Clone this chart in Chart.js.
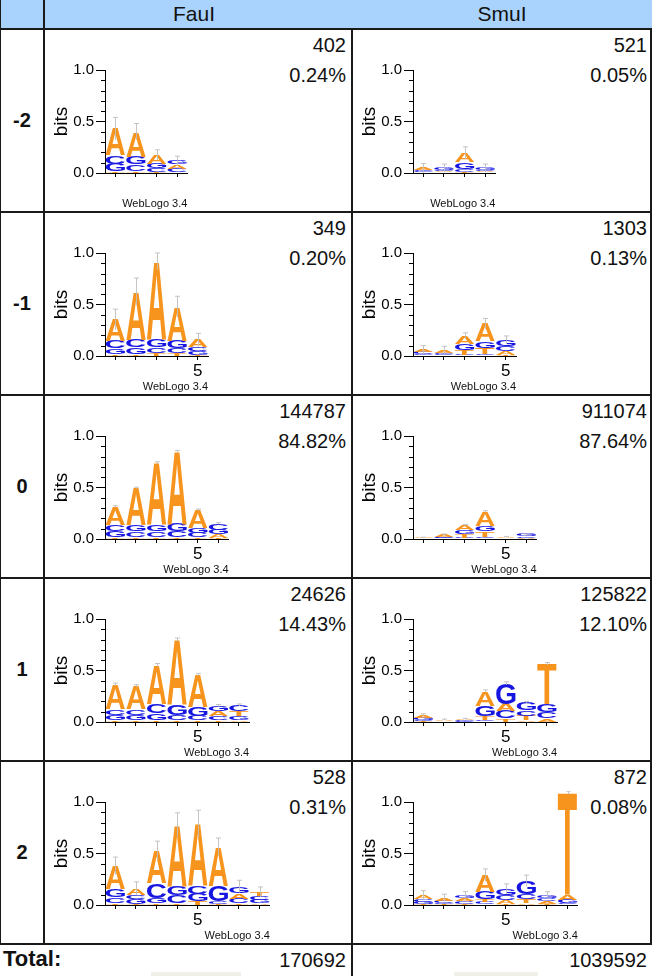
<!DOCTYPE html>
<html>
<head>
<meta charset="utf-8">
<script src="https://cdn.jsdelivr.net/npm/chart.js@4.4.1/dist/chart.umd.min.js"></script>
<style>
  html, body { margin: 0; padding: 0; background: #fff; }
  #hoja { position: relative; width: 652px; height: 976px; overflow: hidden; font-family: "Liberation Sans", Arial, sans-serif; color: #111; }
  .linea { position: absolute; background: #1a1a1a; }
  .texto { position: absolute; white-space: nowrap; }
  canvas { position: absolute; }
</style>
</head>
<body>
<div id="hoja"></div>
<script>
// ==================== DATOS ====================
const columnas = ['FauI', 'SmuI'];
const filas = ['-2', '-1', '0', '1', '2'];
const conteoFauI = ['402', '349', '144787', '24626', '528'];
const pctFauI = ['0.24%', '0.20%', '84.82%', '14.43%', '0.31%'];
const conteoSmuI = ['521', '1303', '911074', '125822', '872'];
const pctSmuI = ['0.05%', '0.13%', '87.64%', '12.10%', '0.08%'];
const totales = ['170692', '1039592'];

const ticksY = [0, 0.5, 1.0];
const ticksMenoresY = [0.1, 0.2, 0.3, 0.4, 0.6, 0.7, 0.8, 0.9];
const etiquetasX = ['5'];

// letras de abajo hacia arriba en cada posición, y su altura en bits
const fauM2Letras = ['TGCA', 'TCGA', 'TCGA', 'TCAG'];
const fauM2Bits = [[0.02, 0.07, 0.08, 0.26], [0.02, 0.065, 0.075, 0.24], [0.01, 0.035, 0.045, 0.085], [0.008, 0.035, 0.04, 0.035]];
const fauM2Error = [0.11, 0.08, 0.05, 0.045];

const smuM2Letras = ['TGCA', 'TACG', 'TCGA', 'TACG'];
const smuM2Bits = [[0.005, 0.012, 0.012, 0.018], [0.005, 0.01, 0.012, 0.02], [0.012, 0.03, 0.062, 0.09], [0.005, 0.01, 0.012, 0.02]];
const smuM2Error = [0.045, 0.04, 0.06, 0.04];

const fauM1Letras = ['TGCA', 'TGCA', 'TCGA', 'TCGA', 'TGCA'];
const fauM1Bits = [[0.02, 0.055, 0.07, 0.21], [0.02, 0.065, 0.075, 0.467], [0.03, 0.055, 0.075, 0.76], [0.025, 0.055, 0.07, 0.33], [0.01, 0.035, 0.04, 0.07]];
const fauM1Error = [0.1, 0.13, 0.08, 0.1, 0.065];

const smuM1Letras = ['TGCA', 'TCGA', 'CTGA', 'CTGA', 'TACG'];
const smuM1Bits = [[0.005, 0.012, 0.018, 0.025], [0.005, 0.012, 0.015, 0.022], [0.01, 0.045, 0.06, 0.08], [0.02, 0.06, 0.065, 0.17], [0.01, 0.035, 0.05, 0.06]];
const smuM1Error = [0.04, 0.04, 0.03, 0.05, 0.04];

const fau0Letras = ['TGCA', 'TCGA', 'TCGA', 'TCGA', 'TCGA', 'TAGC'];
const fau0Bits = [[0.02, 0.06, 0.06, 0.175], [0.02, 0.055, 0.06, 0.36], [0.02, 0.055, 0.065, 0.6], [0.02, 0.06, 0.07, 0.7], [0.015, 0.045, 0.05, 0.173], [0.01, 0.035, 0.045, 0.06]];
const fau0Error = [0.008, 0.008, 0.01, 0.01, 0.008, 0.008];

const smu0Letras = ['TCGA', 'TGCA', 'CTGA', 'CTGA', 'TCGA', 'TACG'];
const smu0Bits = [[0.002, 0.003, 0.003, 0.005], [0.005, 0.008, 0.01, 0.02], [0.01, 0.04, 0.035, 0.05], [0.02, 0.055, 0.055, 0.137], [0.003, 0.005, 0.005, 0.008], [0.004, 0.006, 0.015, 0.018]];
const smu0Error = [0.004, 0.005, 0.006, 0.008, 0.004, 0.005];

const fauP1Letras = ['TGCA', 'TGCA', 'TGCA', 'TCGA', 'TCGA', 'TCAG', 'AGTC'];
const fauP1Bits = [[0.02, 0.05, 0.055, 0.24], [0.02, 0.05, 0.055, 0.225], [0.02, 0.065, 0.085, 0.383], [0.02, 0.05, 0.105, 0.625], [0.015, 0.045, 0.09, 0.31], [0.015, 0.04, 0.05, 0.055], [0.015, 0.04, 0.05, 0.06]];
const fauP1Error = [0.012, 0.012, 0.015, 0.015, 0.012, 0.01, 0.01];

const smuP1Letras = ['TCGA', 'TCGA', 'TCGA', 'CTGA', 'TCAG', 'ATCG', 'ACGT'];
const smuP1Bits = [[0.01, 0.01, 0.02, 0.03], [0.003, 0.005, 0.005, 0.01], [0.004, 0.006, 0.008, 0.012], [0.02, 0.04, 0.1, 0.14], [0.035, 0.07, 0.07, 0.2], [0.015, 0.045, 0.055, 0.075], [0.035, 0.065, 0.075, 0.39]];
const smuP1Error = [0.01, 0.005, 0.005, 0.012, 0.015, 0.01, 0.012];

const fauP2Letras = ['TCGA', 'TGCA', 'TGCA', 'TCGA', 'TGCA', 'TCGA', 'TCAG', 'AGCT'];
const fauP2Bits = [[0.02, 0.055, 0.08, 0.225], [0.01, 0.045, 0.04, 0.065], [0.02, 0.05, 0.14, 0.32], [0.02, 0.075, 0.09, 0.595], [0.04, 0.07, 0.07, 0.61], [0.01, 0.03, 0.147, 0.378], [0.015, 0.045, 0.055, 0.065], [0.015, 0.035, 0.04, 0.035]];
const fauP2Error = [0.085, 0.065, 0.09, 0.115, 0.13, 0.085, 0.06, 0.05];

const smuP2Letras = ['TGCA', 'TGCA', 'TCAG', 'CTGA', 'TACG', 'ATCG', 'TACG', 'CGAT'];
const smuP2Bits = [[0.01, 0.02, 0.03, 0.035], [0.01, 0.01, 0.02, 0.03], [0.01, 0.025, 0.03, 0.03], [0.025, 0.03, 0.07, 0.165], [0.01, 0.035, 0.05, 0.06], [0.02, 0.035, 0.05, 0.13], [0.01, 0.03, 0.03, 0.03], [0.015, 0.035, 0.05, 0.99]];
const smuP2Error = [0.045, 0.035, 0.035, 0.06, 0.05, 0.055, 0.03, 0.015];

const coloresLetra = { A: '#f7941d', T: '#f7941d', C: '#1616e0', G: '#1616e0' };

// ==================== MAQUETA ====================
const hoja = document.getElementById('hoja');
const bordesFila = [29, 212, 395, 578, 761, 944];
const bordesCol = [44, 352];
const anchoPos = 20.6;
const fuente = '"Liberation Sans", Arial, sans-serif';

function caja(x, y, w, h, clase, estilo) {
    const d = document.createElement('div');
    d.className = clase;
    d.style.left = x + 'px'; d.style.top = y + 'px';
    if (w !== null) d.style.width = w + 'px';
    if (h !== null) d.style.height = h + 'px';
    Object.assign(d.style, estilo || {});
    hoja.appendChild(d);
    return d;
}

function texto(t, x, y, w, estilo) {
    const d = caja(x, y, w, null, 'texto', estilo);
    d.textContent = t;
    return d;
}

// cabecera
caja(0, 0, 652, 29, 'fondo', { position: 'absolute', background: '#a9d3fc' });
columnas.forEach((c, i) => {
    texto(c, bordesCol[i], 1, 300, { textAlign: 'center', fontSize: '21px', lineHeight: '26px' });
});

// filas
filas.forEach((f, i) => {
    const y0 = bordesFila[i];
    texto(f, 0, y0, 44, { textAlign: 'center', fontSize: '20px', fontWeight: 'bold', lineHeight: '183px' });
    texto(conteoFauI[i] + '\n' + pctFauI[i], 44, y0 + 1, 302, { textAlign: 'right', fontSize: '20px', lineHeight: '30px', whiteSpace: 'pre' });
    texto(conteoSmuI[i] + '\n' + pctSmuI[i], 352, y0 + 1, 295, { textAlign: 'right', fontSize: '20px', lineHeight: '30px', whiteSpace: 'pre' });
});

// fila total
texto('Total:', 3, 945, 100, { fontSize: '22px', fontWeight: 'bold', lineHeight: '28px' });
texto(totales[0], 44, 946, 302, { textAlign: 'right', fontSize: '20px', lineHeight: '28px' });
texto(totales[1], 352, 946, 295, { textAlign: 'right', fontSize: '20px', lineHeight: '28px' });
caja(151, 972, 90, 6, 'fondo', { position: 'absolute', background: '#f1f0e8' });
caja(454, 972, 84, 6, 'fondo', { position: 'absolute', background: '#f1f0e8' });

// líneas de la tabla
bordesFila.forEach(y => caja(0, y - 1, 652, 2, 'linea'));
caja(0, 0, 1, 944, 'linea');
caja(43, 0, 2, 944, 'linea');
caja(351, 29, 2, 947, 'linea');
caja(650, 29, 2, 916, 'linea');

// ==================== PLUGIN: LETRAS ESTIRADAS ====================
function dibujarLetra(ctx, letra, x0, y0, w, h, color) {
    ctx.save();
    ctx.font = 'bold 100px ' + fuente;
    const m = ctx.measureText(letra);
    const gw = m.actualBoundingBoxLeft + m.actualBoundingBoxRight;
    const gh = m.actualBoundingBoxAscent + m.actualBoundingBoxDescent;
    ctx.translate(x0, y0);
    ctx.scale(w / gw, h / gh);
    ctx.fillStyle = color;
    ctx.textBaseline = 'alphabetic';
    ctx.fillText(letra, m.actualBoundingBoxLeft, m.actualBoundingBoxAscent);
    ctx.restore();
}

const pluginLetras = {
    id: 'letrasLogo',
    afterDatasetsDraw(chart) {
        const ctx = chart.ctx;
        chart.data.datasets.forEach((ds, d) => {
            const meta = chart.getDatasetMeta(d);
            meta.data.forEach((bar, i) => {
                const p = bar.getProps(['x', 'y', 'base', 'width'], true);
                const h = p.base - p.y;
                if (h <= 0) return;
                const letra = ds.letras[i];
                dibujarLetra(ctx, letra, p.x - p.width / 2, p.y, p.width, h, coloresLetra[letra]);
            });
        });
        // barras de error
        const escY = chart.scales.y;
        const escX = chart.scales.x;
        const errores = chart.config.options.errores;
        const bits = chart.config.options.bitsPos;
        ctx.save();
        ctx.beginPath();
        ctx.rect(chart.chartArea.left, chart.chartArea.top - 11, chart.chartArea.width + 20, chart.chartArea.height + 11);
        ctx.clip();
        ctx.strokeStyle = 'rgba(190,190,190,0.9)';
        ctx.lineWidth = 1;
        errores.forEach((e, i) => {
            const total = bits[i].reduce((a, b) => a + b, 0);
            const x = Math.round(escX.getPixelForValue(i)) + 0.5;
            const yArriba = escY.getPixelForValue(total + e);
            const yAbajo = escY.getPixelForValue(total - e);
            ctx.beginPath();
            ctx.moveTo(x, yAbajo);
            ctx.lineTo(x, yArriba);
            ctx.moveTo(x - 2.5, yArriba);
            ctx.lineTo(x + 2.5, yArriba);
            ctx.stroke();
        });
        ctx.restore();
    },
    afterDraw(chart) {
        const ctx = chart.ctx;
        const escY = chart.scales.y;
        const x = chart.chartArea.left;
        ctx.save();
        ctx.strokeStyle = '#000';
        ctx.lineWidth = 1;
        ticksMenoresY.forEach(v => {
            const y = Math.round(escY.getPixelForValue(v)) + 0.5;
            ctx.beginPath();
            ctx.moveTo(x - 4, y);
            ctx.lineTo(x, y);
            ctx.stroke();
        });
        ctx.restore();
    }
};

// ==================== CREAR LOGO ====================
function crearLogo(col, fila, letras, bits, errores) {
    const c = document.createElement('canvas');
    const ancho = col === 0 ? 306 : 298;
    c.width = ancho; c.height = 182;
    c.style.left = bordesCol[col] + 'px';
    c.style.top = bordesFila[fila] + 'px';
    hoja.appendChild(c);

    const n = letras.length;
    const posiciones = letras.map((_, i) => String(i + 1));
    const capas = [0, 1, 2, 3].map(k => ({
        label: 'capa' + k,
        data: bits.map(p => p[k]),
        letras: letras.map(p => p[k]),
        backgroundColor: 'rgba(0,0,0,0)',
        borderWidth: 0,
        barPercentage: 1,
        categoryPercentage: 0.94
    }));

    new Chart(c, {
        type: 'bar',
        data: { labels: posiciones, datasets: capas },
        plugins: [pluginLetras],
        options: {
            responsive: false,
            animation: false,
            errores: errores,
            bitsPos: bits,
            layout: { padding: { left: 0, top: 41, right: ancho - 61 - anchoPos * n, bottom: 0 } },
            plugins: { legend: { display: false }, tooltip: { enabled: false } },
            scales: {
                x: {
                    stacked: true,
                    grid: { display: true, drawOnChartArea: false, offset: false, tickLength: 4, color: '#000', tickColor: '#000' },
                    border: { display: true, color: '#000' },
                    ticks: {
                        autoSkip: false, maxRotation: 0, padding: 1, color: '#000',
                        font: { family: fuente, size: 17 },
                        callback: function(v) {
                            const l = this.getLabelForValue(v);
                            return etiquetasX.includes(l) ? l : '';
                        }
                    },
                    title: { display: true, text: 'WebLogo 3.4', align: 'end', color: '#111', padding: 0,
                        font: { family: fuente, size: 11 } },
                    afterFit: s => { s.height = 38; }
                },
                y: {
                    stacked: true, min: 0, max: 1,
                    grid: { drawOnChartArea: false, tickLength: 9, color: '#000', tickColor: '#000' },
                    border: { display: true, color: '#000' },
                    ticks: {
                        stepSize: 0.5, padding: 2, color: '#000',
                        font: { family: fuente, size: 15 },
                        callback: v => ticksY.includes(v) ? v.toFixed(1) : ''
                    },
                    title: { display: true, text: 'bits', color: '#000', padding: { top: 6 },
                        font: { family: fuente, size: 19 } },
                    afterFit: s => { s.width = 61; }
                }
            }
        }
    });
}

crearLogo(0, 0, fauM2Letras, fauM2Bits, fauM2Error);
crearLogo(1, 0, smuM2Letras, smuM2Bits, smuM2Error);
crearLogo(0, 1, fauM1Letras, fauM1Bits, fauM1Error);
crearLogo(1, 1, smuM1Letras, smuM1Bits, smuM1Error);
crearLogo(0, 2, fau0Letras, fau0Bits, fau0Error);
crearLogo(1, 2, smu0Letras, smu0Bits, smu0Error);
crearLogo(0, 3, fauP1Letras, fauP1Bits, fauP1Error);
crearLogo(1, 3, smuP1Letras, smuP1Bits, smuP1Error);
crearLogo(0, 4, fauP2Letras, fauP2Bits, fauP2Error);
crearLogo(1, 4, smuP2Letras, smuP2Bits, smuP2Error);
</script>
</body>
</html>
